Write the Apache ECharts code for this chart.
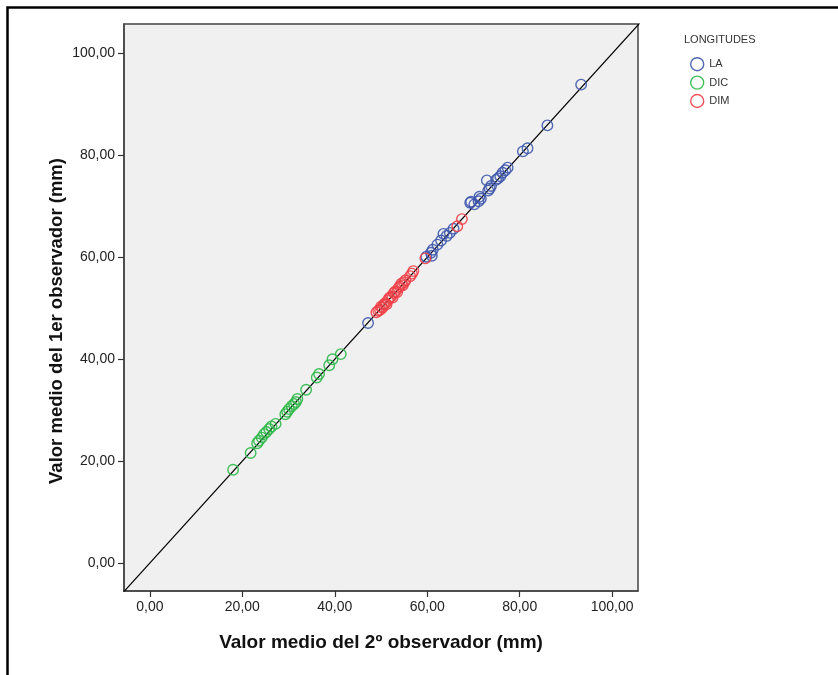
<!DOCTYPE html>
<html><head><meta charset="utf-8">
<script src="https://cdn.jsdelivr.net/npm/echarts@6/dist/echarts.min.js"></script>
<style>html,body{margin:0;padding:0;background:#fff}#c{width:838px;height:675px}</style>
</head><body><div id="c"></div>
<script>
const tickValues = [0, 20, 40, 60, 80, 100];
const seriesNames = ['LA', 'DIC', 'DIM'];
const laData = [
 [47.2,47.1],[59.8,60.1],[60.8,60.9],[61.2,61.5],[61.0,60.3],[62.2,62.5],[63.0,63.3],[63.5,64.6],
 [64.2,64.2],[64.9,64.8],[65.7,65.6],[69.3,70.7],[69.5,70.9],[70.2,70.4],[71.1,71.0],[71.6,71.5],
 [71.3,71.9],[73.2,73.1],[73.5,73.5],[73.8,74.0],[72.9,75.1],[74.9,75.2],[75.3,75.5],[75.8,75.9],
 [76.3,76.6],[76.9,77.1],[77.4,77.6],[80.7,80.8],[81.7,81.4],[86.0,85.9],[93.3,93.9]
];
const dicData = [
 [18.0,18.3],[21.8,21.6],[23.2,23.5],[23.6,24.0],[24.2,24.6],[24.7,25.3],[25.2,25.7],[25.8,26.3],
 [26.3,26.8],[27.2,27.3],[29.3,29.2],[29.7,29.7],[30.1,30.2],[30.7,30.8],[31.2,31.2],[31.6,31.6],
 [31.9,32.2],[33.8,34.0],[36.1,36.4],[36.6,37.1],[38.8,38.8],[39.5,40.0],[41.3,41.0]
];
const dimData = [
 [49.0,49.2],[49.4,49.5],[49.8,49.7],[50.0,50.3],[50.3,50.1],[50.6,50.7],[50.9,51.0],[51.2,50.8],
 [51.5,51.6],[51.8,52.0],[52.2,52.3],[52.5,52.1],[52.8,53.0],[53.1,53.3],[53.5,53.2],[53.8,54.0],
 [54.1,54.3],[54.4,54.8],[54.7,54.5],[55.0,55.1],[55.3,55.5],[56.3,56.3],[56.7,56.8],[57.0,57.3],
 [59.6,59.8],[66.5,66.1],[67.5,67.5]
];
const refLine = [[-10,-10],[110,110]];
const colors = ['#3E58AC', '#2EB848', '#EE3F47'];
const xRange = [-5.6, 105.6];
const yRange = [-5.5, 105.8];
const xTitle = 'Valor medio del 2º observador (mm)';
const yTitle = 'Valor medio del 1er observador (mm)';
const legendTitle = 'LONGITUDES';
const fmt = v => v.toFixed(2).replace('.', ',');

const chart = echarts.init(document.getElementById('c'));
const font = '"Liberation Sans", Arial, sans-serif';
function axis(range, name, gap) {
  return {
    type: 'value', min: range[0], max: range[1],
    name: name, nameLocation: 'middle', nameGap: gap,
    nameTextStyle: {fontFamily: font, fontSize: 19, fontWeight: 'bold', color: '#111'},
    axisLine: {show: true, onZero: false, lineStyle: {color: '#444', width: 1.5}},
    axisTick: {show: true, length: 6, customValues: tickValues, lineStyle: {color: '#333', width: 1.2}},
    axisLabel: {customValues: tickValues, formatter: fmt, fontFamily: font, fontSize: 14, color: '#222', margin: 9},
    splitLine: {show: false}
  };
}
function scatter(i, data) {
  return {
    name: seriesNames[i], type: 'scatter', data: data, symbol: 'circle', symbolSize: 10.5,
    itemStyle: {color: 'rgba(255,255,255,0)', borderColor: colors[i], borderWidth: 1.4, opacity: 0.9},
    z: 3
  };
}
const yAx = axis(yRange, '', 0);
chart.setOption({
  animation: false,
  grid: {left: 124, top: 24, width: 514, height: 567, show: true, backgroundColor: '#f0f0f0', borderColor: '#444', borderWidth: 1.5},
  xAxis: axis(xRange, xTitle, 42),
  yAxis: yAx,
  legend: {
    orient: 'vertical', left: 685, top: 52, itemWidth: 14, itemHeight: 13, itemGap: 4,
    data: seriesNames.map((n, i) => ({name: n, icon: 'circle', itemStyle: {color: 'rgba(255,255,255,0)', borderColor: colors[i], borderWidth: 1.4}})),
    textStyle: {fontFamily: font, fontSize: 11, color: '#333'}
  },
  graphic: [
    {type: 'text', left: 684, top: 34, style: {text: legendTitle, font: '11px ' + font, fill: '#333'}},
    {type: 'text', x: 57, y: 321, rotation: Math.PI / 2, style: {text: yTitle, font: 'bold 18.5px ' + font, fill: '#111', align: 'center', verticalAlign: 'middle'}},
    {type: 'polyline', shape: {points: [[7.5, 675], [7.5, 7.5], [838, 7.5]]}, style: {stroke: '#000', lineWidth: 2.5, fill: null}}
  ],
  series: [
    {type: 'line', data: refLine, symbol: 'none', silent: true, lineStyle: {color: '#000', width: 1.2}, clip: true, z: 2, legendHoverLink: false},
    scatter(0, laData), scatter(1, dicData), scatter(2, dimData)
  ]
});
</script></body></html>
